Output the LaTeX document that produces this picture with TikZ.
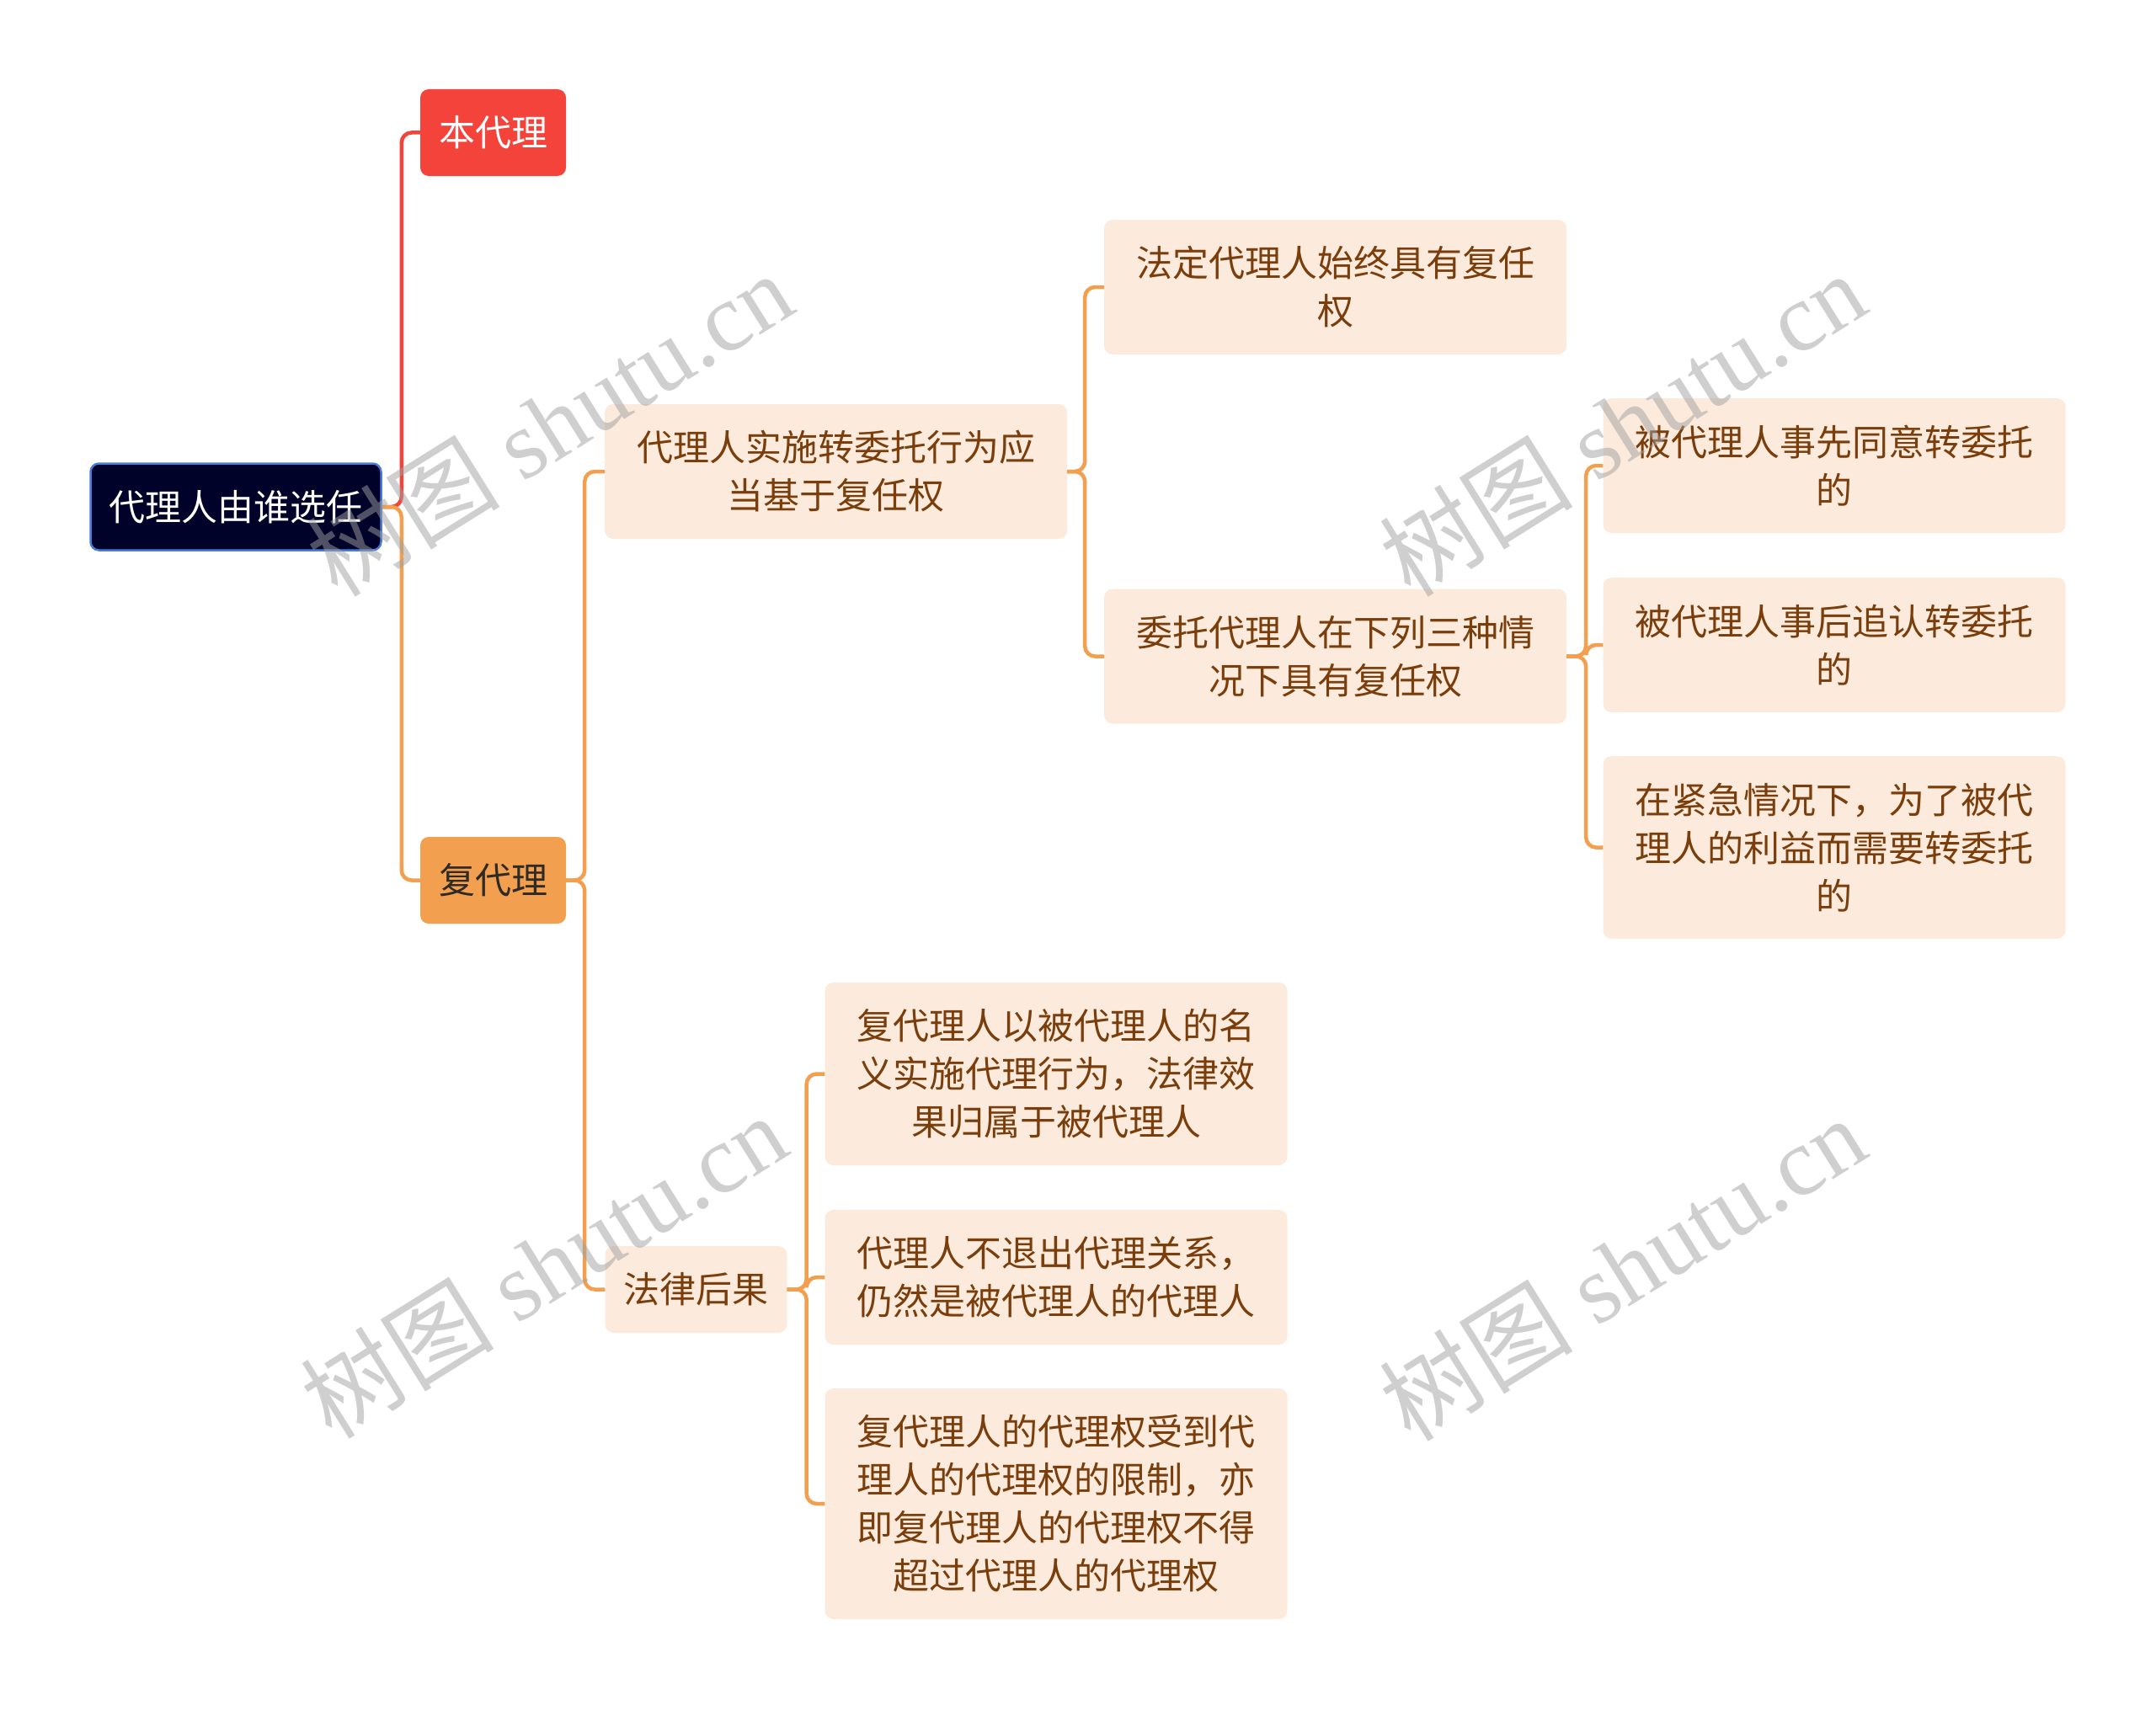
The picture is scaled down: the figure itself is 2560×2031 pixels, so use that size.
\documentclass[tikz,border=0pt]{standalone}
\usepackage{fontspec}
\usepackage{xcolor}
\newfontfamily\cjk{Noto Sans CJK SC}
\newfontfamily\wmlatin{Liberation Serif}
\definecolor{rootcolor}{HTML}{000229}
\definecolor{rootedge}{HTML}{4A7BD6}
\definecolor{redcolor}{HTML}{F4433B}
\definecolor{orangecolor}{HTML}{F2A04F}
\definecolor{leafcolor}{HTML}{FCEBDC}
\definecolor{leaftext}{HTML}{7A3D0C}
\definecolor{darktext}{HTML}{2E2A26}
\definecolor{markcolor}{HTML}{A0A0A0}
\tikzset{
	mapbox/.style={rounded corners=10pt, inner xsep=22pt, inner ysep=0pt, minimum height=#1*57pt+46pt, align=center, font=\cjk\fontsize{43}{57}\selectfont},
	mapbox/.default=1,
	rootbox/.style={mapbox, fill=rootcolor, draw=rootedge, line width=2.5pt, text=white},
	redbox/.style={mapbox, fill=redcolor, text=white},
	orangebox/.style={mapbox, fill=orangecolor, text=darktext},
	leafbox/.style={mapbox=#1, fill=leafcolor, text=leaftext},
	leafbox/.default=1,
	wide/.style={text width=475pt, inner xsep=37pt},
	link/.style={line width=4.5pt, rounded corners=12pt, draw=orangecolor},
	watermark/.style={rotate=32, text=markcolor, opacity=0.5, font=\wmlatin\fontsize{115}{115}\selectfont},
}

\begin{document}
\begin{tikzpicture}[x=1pt, y=-1pt]
	\useasboundingbox (0,0) rectangle (2560,2031);
	% first level
	\node [rootbox] (root) at (280,602) {代理人由谁选任};
	\node [redbox] (ben) at (585.5,157.5) {本代理};
	\node [orangebox] (fu) at (585.5,1045.5) {复代理};
	% second level
	\node [leafbox=2, wide] (shishi) at (992.5,560) {代理人实施转委托行为应\\当基于复任权};
	\node [leafbox] (falv) at (826.5,1531.5) {法律后果};
	\node [leafbox=2, wide] (fading) at (1585.5,341) {法定代理人始终具有复任\\权};
	\node [leafbox=2, wide] (weituo) at (1585.5,779.5) {委托代理人在下列三种情\\况下具有复任权};
	\node [leafbox=2, wide] (xian) at (2178,553) {被代理人事先同意转委托\\的};
	\node [leafbox=2, wide] (hou) at (2178,766) {被代理人事后追认转委托\\的};
	\node [leafbox=3, wide] (jinji) at (2178,1006.5) {在紧急情况下，为了被代\\理人的利益而需要转委托\\的};
	\node [leafbox=3, wide] (mingyi) at (1254,1275.5) {复代理人以被代理人的名\\义实施代理行为，法律效\\果归属于被代理人};
	\node [leafbox=2, wide] (butui) at (1254,1517) {代理人不退出代理关系，\\仍然是被代理人的代理人};
	\node [leafbox=4, wide] (xianzhi) at (1254,1786) {复代理人的代理权受到代\\理人的代理权的限制，亦\\即复代理人的代理权不得\\超过代理人的代理权};
	% connectors
	\draw [link, draw=redcolor] (root.east) -- ++(23pt,0) |- (ben.west);
	\draw [link] (root.east) -- ++(23pt,0) |- (fu.west);
	\foreach \kid in {shishi,falv}
		\draw [link] (fu.east) -- ++(22pt,0) |- (\kid.west);
	\foreach \kid in {fading,weituo}
		\draw [link] (shishi.east) -- ++(21pt,0) |- (\kid.west);
	\foreach \kid in {xian,hou,jinji}
		\draw [link] (weituo.east) -- ++(23pt,0) |- (\kid.west);
	\foreach \kid in {mingyi,butui,xianzhi}
		\draw [link] (falv.east) -- ++(23pt,0) |- (\kid.west);
	% watermarks
	\foreach \wx/\wy [count=\i] in {652/503, 1926/503, 645/1503, 1926/1506}
		\node [watermark] (wm\i) at (\wx,\wy) {{\cjk 树图} shutu.cn};
\end{tikzpicture}
\end{document}
